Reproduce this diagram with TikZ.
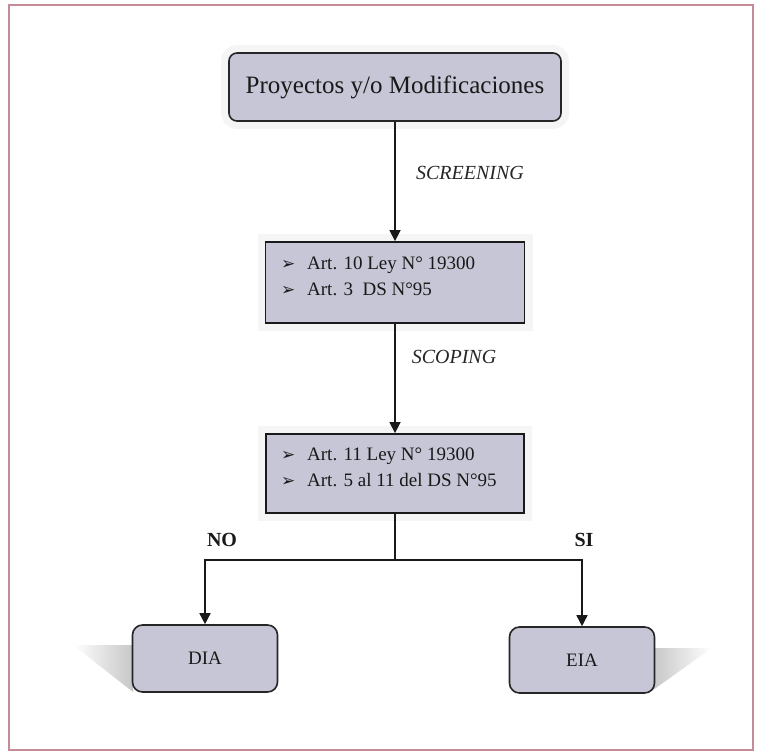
\documentclass[tikz,border=0pt]{standalone}
\usepackage{fontspec}
\setmainfont{Liberation Serif}
\newfontfamily\dejavu{DejaVu Sans}
\usetikzlibrary{arrows.meta}

\definecolor{boxgray}{RGB}{198,198,214}
\definecolor{framepink}{RGB}{196,140,150}
\newcommand\bul{\makebox[26pt][l]{\dejavu\fontsize{17}{17}\selectfont ➢}}

\begin{document}
\begin{tikzpicture}[x=1pt, y=-1pt,
    halo/.style={preaction={draw=black!4, line width=16pt}},
    topbox/.style={draw=black!85, line width=1.6pt, fill=boxgray, rounded corners=8pt, halo,
        font=\fontsize{25}{30}\selectfont, text=black!90},
    rulebox/.style={draw=black!90, line width=1.8pt, fill=boxgray, halo},
    endbox/.style={draw=black!85, line width=1.6pt, fill=boxgray, rounded corners=10pt,
        font=\fontsize{19}{23}\selectfont, text=black!90},
    listtext/.style={align=left, inner sep=0pt, font=\fontsize{19}{26}\selectfont, text=black!90},
    phaselabel/.style={font=\fontsize{20}{24}\selectfont\itshape, text=black!85},
    answer/.style={font=\fontsize{20}{24}\selectfont\bfseries, text=black!90},
    line/.style={line width=1.5pt, black!90},
    arrow/.style={line, -{Triangle[width=11pt, length=11pt]}}]
    \useasboundingbox (0,0) rectangle (763,754);
    \draw[framepink, line width=1.3pt] (9,5) rectangle (753,750);

    % shadows of the two results
    \shade[left color=white, right color=black!22] (73,645) -- (133,645) -- (133,692) -- cycle;
    \shade[left color=black!22, right color=white] (653,648) -- (712,648) -- (653,690) -- cycle;

    \node[topbox, minimum width=332pt, minimum height=68pt] (proj) at (395,87) {Proyectos y/o Modificaciones};
    \node[rulebox, minimum width=259pt, minimum height=81pt] (screen) at (395,282.5) {};
    \node[listtext, anchor=west] (screenlist) at (281,276) {\bul Art. 10 Ley N° 19300\\ \bul Art. 3\ \ DS N°95};
    \node[rulebox, minimum width=258pt, minimum height=79pt] (scope) at (395,473.5) {};
    \node[listtext, anchor=west] (scopelist) at (281,467.5) {\bul Art. 11 Ley N° 19300\\ \bul Art. 5 al 11 del DS N°95};
    \node[endbox, minimum width=145pt, minimum height=67pt] (dia) at (205,658.5) {DIA};
    \node[endbox, minimum width=145pt, minimum height=66pt] (eia) at (582,660) {EIA};

    \node[phaselabel] (screening) at (470,173) {SCREENING};
    \node[phaselabel] (scoping) at (454,357) {SCOPING};
    \node[answer] (no) at (222,540) {NO};
    \node[answer] (si) at (584,540) {SI};

    \coordinate (split) at (395,560);
    \draw[arrow] (proj) -- (screen);
    \draw[arrow] (screen) -- (scope);
    \draw[line] (scope) -- (split);
    \draw[arrow] (split) -| (dia);
    \draw[arrow] (split) -| (eia);
\end{tikzpicture}
\end{document}
